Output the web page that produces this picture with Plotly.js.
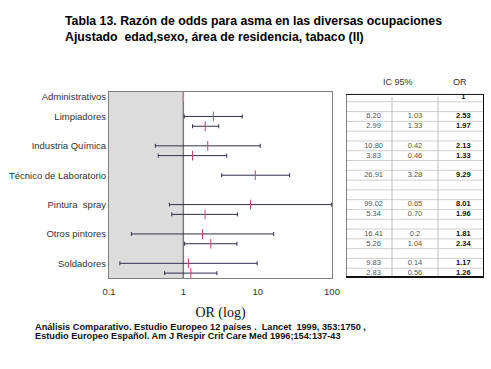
<!DOCTYPE html>
<html>
<head>
<meta charset="utf-8">
<script src="https://cdn.plot.ly/plotly-3.0.1.min.js"></script>
<style>html,body{margin:0;padding:0;background:#fff;}#chart{width:491px;height:369px;}</style>
</head>
<body>
<div id="chart"></div>
<script>
// ---- data ----
var groupLabels = ['Administrativos','Limpiadores','Industria Química','Técnico de Laboratorio','Pintura  spray','Otros pintores','Soldadores'];
var groupRow    = [0, 2, 5, 8, 11, 14, 17];           // table row of each group label
var tableRow    = [0, 2, 3, 5, 6, 8, 11, 12, 14, 15, 17, 18];
var upperCI     = ['', '6.20','2.99','10.80','3.83','26.91','99.02','5.34','16.41','5.26','9.83','2.83'];
var lowerCI     = ['', '1.03','1.33','0.42','0.46','3.28','0.65','0.70','0.2','1.04','0.14','0.56'];
var oddsRatio   = ['1','2.53','1.97','2.13','1.33','9.29','8.01','1.96','1.81','2.34','1.17','1.26'];
var xTicks      = [0.1, 1, 10, 100];
var xTickText   = ['0.1','1','10','100'];
var tableHeaders = ['IC 95%','OR'];

// ---- derived ----
var orNum = oddsRatio.map(parseFloat);
var hiNum = upperCI.map(function(s){return s===''?NaN:parseFloat(s);});
var loNum = lowerCI.map(function(s){return s===''?NaN:parseFloat(s);});
var errPlus = orNum.map(function(v,i){return isNaN(hiNum[i])?0:hiNum[i]-v;});
var errMinus = orNum.map(function(v,i){return isNaN(loNum[i])?0:v-loNum[i];});
var hasCI = upperCI.map(function(s){return s!=='';});
var noCI = hasCI.map(function(b){return !b;});

function pick(arr, mask){return arr.filter(function(_,i){return mask[i];});}

var ciTrace = {
  type:'scatter', mode:'markers',
  x: pick(orNum, hasCI), y: pick(tableRow, hasCI),
  marker:{symbol:'line-ns', size:7, color:'rgba(0,0,0,0)', line:{color:'#c2456a', width:1}},
  error_x:{type:'data', symmetric:false, array: pick(errPlus, hasCI), arrayminus: pick(errMinus, hasCI),
           color:'#2f2f4f', thickness:1, width:2},
  hoverinfo:'skip', showlegend:false, xaxis:'x', yaxis:'y', cliponaxis:false
};
var refTrace = {
  type:'scatter', mode:'markers',
  x: pick(orNum, noCI), y: pick(tableRow, noCI),
  marker:{symbol:'line-ns', size:7, color:'rgba(0,0,0,0)', line:{color:'#e07a95', width:1}},
  hoverinfo:'skip', showlegend:false, xaxis:'x', yaxis:'y'
};

// table text columns
function colTrace(xpos, texts, opts){
  return {
    type:'scatter', mode:'text',
    x: texts.map(function(){return xpos;}), y: tableRow, text: texts,
    textposition:'middle center',
    textfont: Object.assign({family:'Arial, Liberation Sans, sans-serif', size:7.5, color:'#555'}, opts||{}),
    hoverinfo:'skip', showlegend:false, xaxis:'x2', yaxis:'y', cliponaxis:false
  };
}
var tUpper = colTrace(0.6, upperCI);
var tLower = colTrace(1.5, lowerCI);
var tOR = colTrace(2.55, oddsRatio, {color:'#111', weight:'bold'});

// reference region OR < 1 (1 sits at 1/3 of the log range 0.1..100)
var oneFrac = (Math.log10(1) - Math.log10(xTicks[0])) / (Math.log10(xTicks[3]) - Math.log10(xTicks[0]));
var shapes = [
  {type:'rect', xref:'x domain', yref:'y domain', x0:0, x1:oneFrac, y0:0, y1:1, fillcolor:'#dcdcdc',
   line:{width:0}, layer:'below'},
  {type:'line', xref:'x domain', yref:'y domain', x0:oneFrac, x1:oneFrac, y0:0, y1:1, line:{color:'#7a7a7a', width:1.5}, layer:'below'}
];
var tTop = 0.0, tBot = 18.4;
for (var k = 0; k < 18; k++) {
  shapes.push({type:'line', xref:'x2', yref:'y', x0:0, x1:3, y0:k+0.5, y1:k+0.5, line:{color:'#cfcfcf', width:1}});
}
shapes.push({type:'line', xref:'x2', yref:'y', x0:1, x1:1, y0:tTop, y1:tBot, line:{color:'#bdbdbd', width:1}});
shapes.push({type:'line', xref:'x2', yref:'y', x0:2, x1:2, y0:tTop, y1:tBot, line:{color:'#bdbdbd', width:1}});
shapes.push({type:'rect', xref:'x2', yref:'y', x0:0, x1:3, y0:-0.25, y1:tBot, line:{color:'#111', width:1}});
shapes.push({type:'line', xref:'x2', yref:'y', x0:3, x1:3, y0:-0.25, y1:tBot, line:{color:'#111', width:2}});
shapes.push({type:'line', xref:'x2', yref:'y', x0:0, x1:3, y0:tBot, y1:tBot, line:{color:'#111', width:2}});

var annotations = [
  {xref:'x2', yref:'paper', x:1.13, y:1.055, yanchor:'middle', text:tableHeaders[0], showarrow:false,
   font:{family:'Arial, Liberation Sans, sans-serif', size:9, color:'#333'}},
  {xref:'x2', yref:'paper', x:2.48, y:1.055, yanchor:'middle', text:tableHeaders[1], showarrow:false,
   font:{family:'Arial, Liberation Sans, sans-serif', size:9, color:'#333'}},
  {xref:'paper', yref:'paper', xanchor:'left', yanchor:'middle', x:-76/375, y:(278-327)/186, showarrow:false,
   text:'<b>Análisis Comparativo. Estudio Europeo 12 países .  Lancet  1999, 353:1750 ,</b>',
   font:{family:'Arial, Liberation Sans, sans-serif', size:9.2, color:'#111'}},
  {xref:'paper', yref:'paper', xanchor:'left', yanchor:'middle', x:-76/375, y:(278-336)/186, showarrow:false,
   text:'<b>Estudio Europeo Español. Am J Respir Crit Care Med 1996;154:137-43</b>',
   font:{family:'Arial, Liberation Sans, sans-serif', size:9.2, color:'#111'}}
];

var layout = {
  width:491, height:369,
  margin:{l:109, r:7, t:92, b:91},
  paper_bgcolor:'#fff', plot_bgcolor:'rgba(0,0,0,0)',
  title:{text:'<b>Tabla 13. Razón de odds para asma en las diversas ocupaciones<br>Ajustado  edad,sexo, área de residencia, tabaco (II)</b>',
         xref:'container', yref:'container', x:65/491, xanchor:'left', y:1-25/369, yanchor:'top',
         font:{family:'Arial, Liberation Sans, sans-serif', size:12.3, color:'#000'}},
  xaxis:{type:'log', range:[-1,2], domain:[0, 223/375], tickvals:xTicks, ticktext:xTickText,
         showgrid:false, zeroline:false, ticks:'outside', ticklen:5, tickcolor:'rgba(0,0,0,0)',
         showline:true, mirror:true, linecolor:'#808080', linewidth:1,
         tickfont:{family:'Arial, Liberation Sans, sans-serif', size:9.5, color:'#333'},
         title:{text:'OR (log)', standoff:10, font:{family:'Liberation Serif, Times New Roman, serif', size:14, color:'#111'}},
         fixedrange:true},
  xaxis2:{range:[0,3], domain:[237/375, 1], anchor:'y', visible:false, fixedrange:true},
  yaxis:{range:[18.5,-0.5], tickvals:groupRow, ticktext:groupLabels, showgrid:false, zeroline:false, ticks:'',
         showline:true, mirror:true, linecolor:'#808080', linewidth:1,
         tickfont:{family:'Arial, Liberation Sans, sans-serif', size:9.5, color:'#333'}, fixedrange:true},
  shapes:shapes,
  annotations:annotations,
  showlegend:false
};

Plotly.newPlot('chart', [ciTrace, refTrace, tUpper, tLower, tOR], layout, {displayModeBar:false, staticPlot:true});
</script>
</body>
</html>
